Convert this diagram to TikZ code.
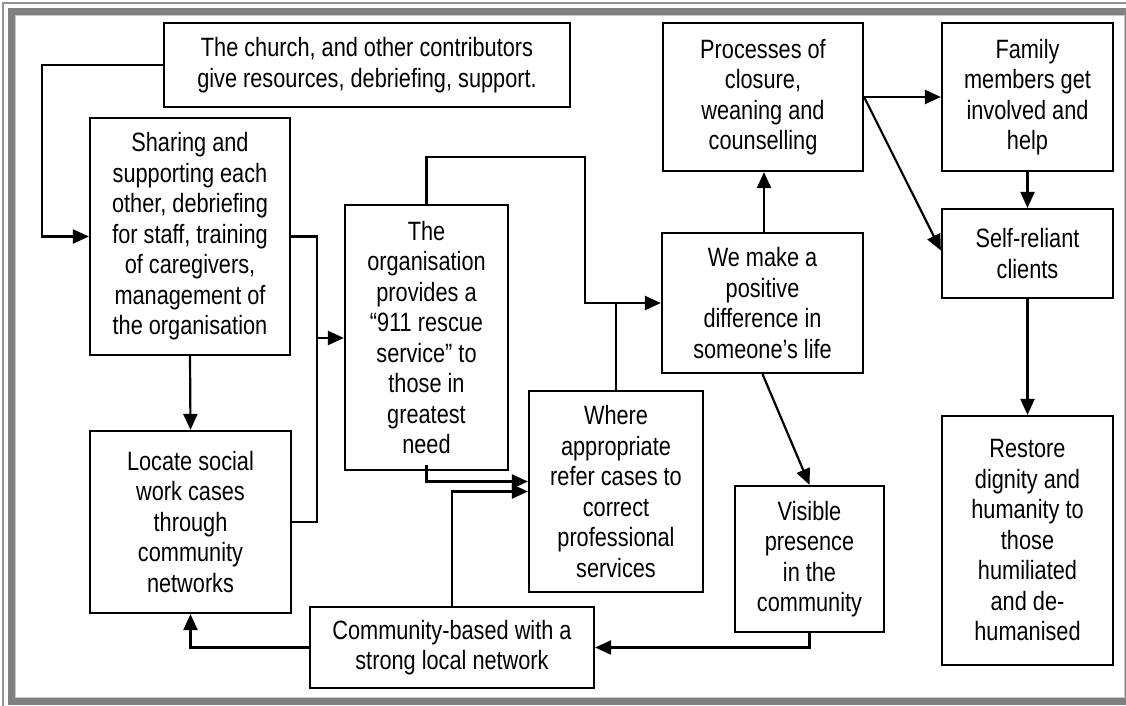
\documentclass[tikz,border=0pt]{standalone}
\usepackage{fontspec}
\setmainfont{Liberation Sans}[FakeStretch=0.82]
\usetikzlibrary{arrows.meta}
\definecolor{framegray}{RGB}{128,128,128}
\definecolor{framelight}{RGB}{200,200,200}
\begin{document}
\begin{tikzpicture}[x=1pt,y=-1pt,
  box/.style={draw, line width=2.2pt, align=center, inner sep=0pt,
    font=\fontsize{26.5}{30.5}\selectfont},
  conn/.style={line width=2.2pt},
  arr/.style={conn, -{Triangle[length=16pt,width=14pt]}}]
\useasboundingbox (0,0) rectangle (1126,706);
% frame
\begin{scope}
\clip (0,0) rectangle (1126,706);
\fill[white] (0,0) rectangle (1126,706);
\draw[framegray!85, line width=2pt] (3,3.5) rectangle (1140,720);
\draw[framegray, line width=7pt] (11.5,11.5) rectangle (1128,701.5);
\draw[framelight, line width=1pt] (15.5,15.5) rectangle (1124.5,697.5);
\end{scope}
% nodes
\node[box, minimum width=406pt, minimum height=84pt] (church) at (367,65)
  {The church, and other contributors\\give resources, debriefing, support.};
\node[box, minimum width=200pt, minimum height=237pt] (sharing) at (190,236.5)
  {Sharing and\\supporting each\\other, debriefing\\for staff, training\\of caregivers,\\management of\\the organisation};
\node[box, minimum width=201pt, minimum height=182pt] (locate) at (190.5,522)
  {Locate social\\work cases\\through\\community\\networks};
\node[box, minimum width=163pt, minimum height=265pt] (org) at (426.5,337.5)
  {The\\organisation\\provides a\\“911 rescue\\service” to\\those in\\greatest\\need};
\node[box, minimum width=174pt, minimum height=201pt] (where) at (616,491.5)
  {Where\\appropriate\\refer cases to\\correct\\professional\\services};
\node[box, minimum width=284pt, minimum height=81pt] (community) at (452,647.5)
  {Community-based with a\\strong local network};
\node[box, minimum width=201pt, minimum height=140pt] (wemake) at (762.5,303)
  {We make a\\positive\\difference in\\someone’s life};
\node[box, minimum width=200pt, minimum height=148pt] (processes) at (763,97)
  {Processes of\\closure,\\weaning and\\counselling};
\node[box, minimum width=171pt, minimum height=148pt] (family) at (1027.5,97)
  {Family\\members get\\involved and\\help};
\node[box, minimum width=171pt, minimum height=89pt] (self) at (1027.5,253.5)
  {Self-reliant\\clients};
\node[box, minimum width=171pt, minimum height=249pt] (restore) at (1027.5,540.5)
  {Restore\\dignity and\\humanity to\\those\\humiliated\\and de-\\humanised};
\node[box, minimum width=149pt, minimum height=146pt] (visible) at (809.5,559)
  {Visible\\presence\\in the\\community};
% helper coordinates
\coordinate (c1) at (42,65);
\coordinate (j1) at (317,338);
\coordinate (c2) at (585,157);
% connectors
\draw[arr] (church.west) -- (c1) |- (sharing.west);
\draw[conn] (sharing.east) -| (j1) |- (locate.east);
\draw[arr] (j1) -- (j1 -| org.west);
\draw[arr] (sharing.south) -- (locate.north);
\draw[arr] (community.west) -| (locate.south);
\draw[arr] (org.north) |- (c2) |- (wemake.west);
\draw[conn] (where.north) -- (where.north |- wemake.west);
\draw[arr] (wemake.north -| 764,0) -- (processes.south -| 764,0);
\draw[arr] (processes.east) -- (family.west);
\draw[arr] (processes.east) -- ([yshift=3pt]self.west);
\draw[arr] (family.south) -- (self.north);
\draw[arr] (self.south) -- (restore.north);
\draw[arr] (wemake.south) -- (visible.north);
\draw[arr] (visible.south) |- (community.east);
\draw[arr] ([yshift=6pt]org.south) |- ([yshift=10pt]where.west);
\draw[arr] (community.north) |- (where.west);
\end{tikzpicture}
\end{document}
